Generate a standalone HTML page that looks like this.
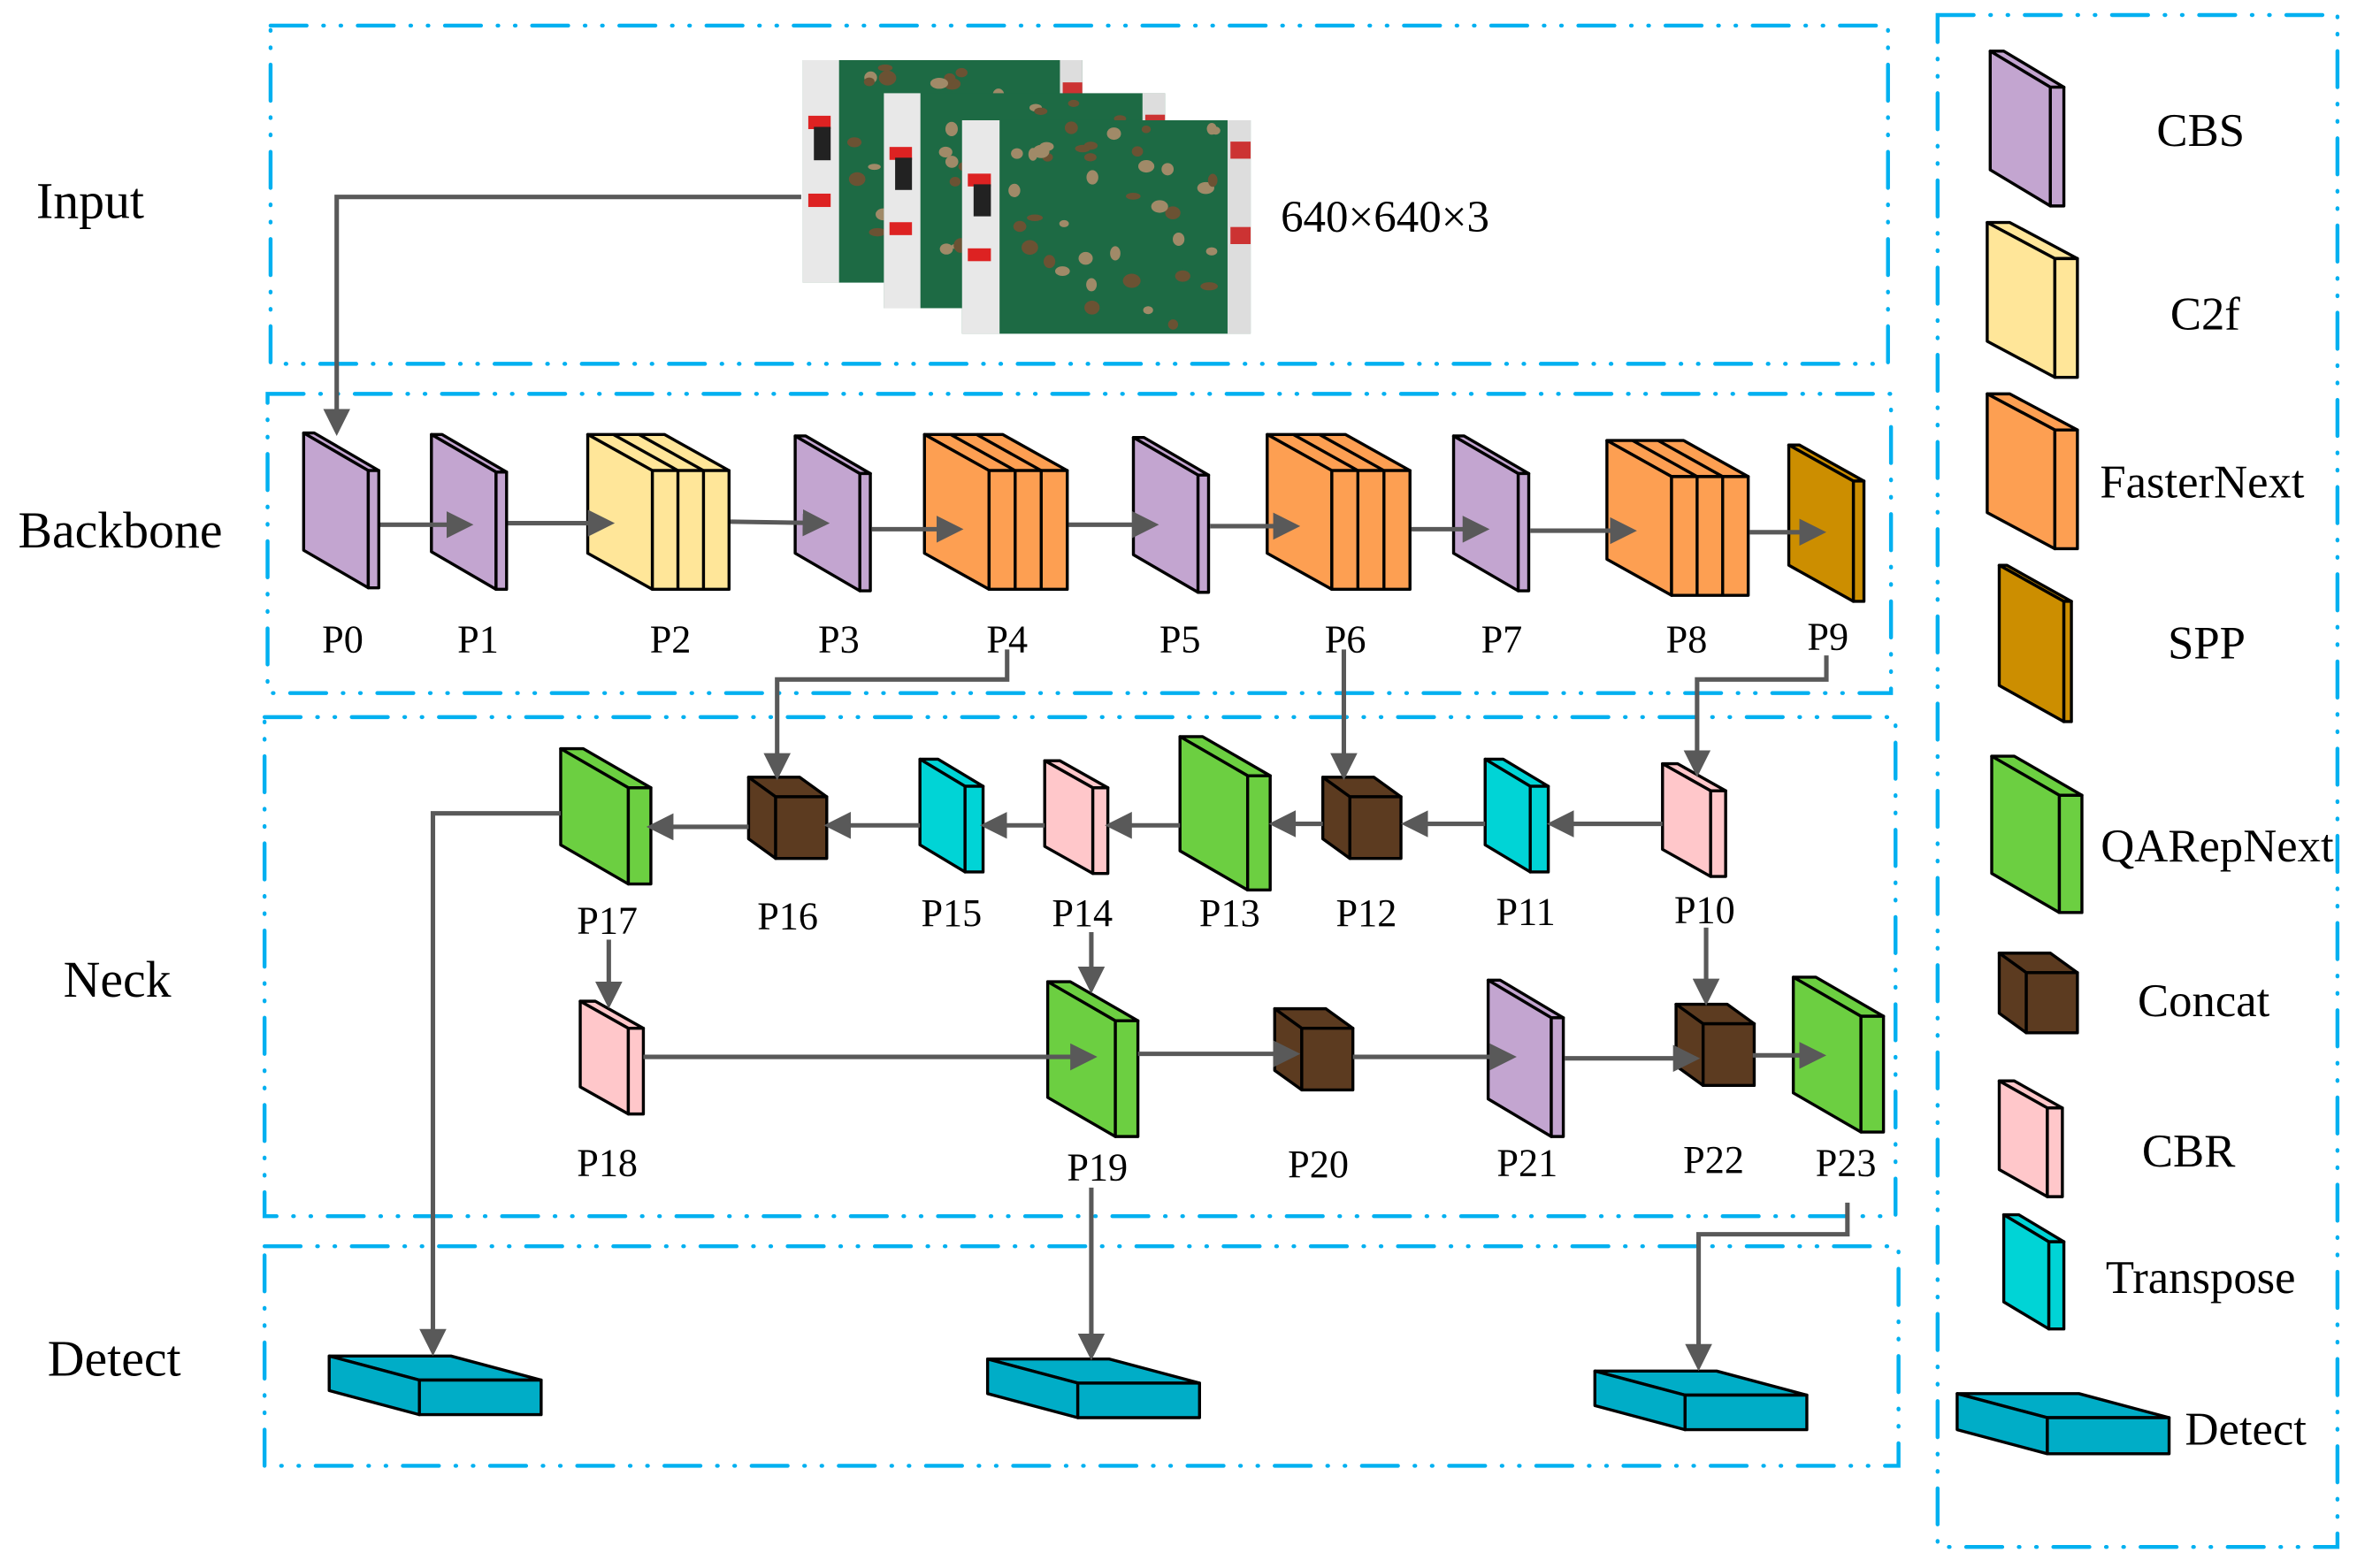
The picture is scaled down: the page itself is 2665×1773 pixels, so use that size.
<!DOCTYPE html>
<html><head><meta charset="utf-8">
<style>
html,body{margin:0;padding:0;background:#fff;}
svg{display:block;}
text{font-family:"Liberation Serif",serif;fill:#000;}
</style></head>
<body>
<svg id="s" width="2665" height="1773" viewBox="0 0 1568 1043" preserveAspectRatio="none" xmlns="http://www.w3.org/2000/svg">
<defs>
<marker id="ah" markerWidth="6" markerHeight="6" refX="5" refY="3" orient="auto" markerUnits="strokeWidth">
<path d="M0,0 L6,3 L0,6 z" fill="#595959"/>
</marker>
</defs>
<g fill="none" stroke="#00b0f0" stroke-width="2.6" stroke-dasharray="24 11 0.5 11 0.5 11" stroke-linecap="round">
<rect x="180" y="17" width="1076" height="225"/>
<rect x="178" y="262" width="1080" height="199"/>
<rect x="176" y="477" width="1085" height="332"/>
<rect x="176" y="829" width="1087" height="146"/>
<rect x="1289" y="10" width="266" height="1019"/>
</g>
<g id="imgs"></g>
<g id="blocks"></g>
<g fill="none" stroke="#595959" stroke-width="3" marker-end="url(#ah)">
<polyline points="533,131 224,131 224,287"/>
<line x1="253" y1="349" x2="312" y2="349"/>
<line x1="338" y1="348" x2="406" y2="348"/>
<line x1="486" y1="347" x2="549" y2="348"/>
<line x1="580" y1="352" x2="638" y2="352"/>
<line x1="711" y1="349" x2="768" y2="349"/>
<line x1="805" y1="350" x2="862" y2="350"/>
<line x1="939" y1="352" x2="988" y2="352"/>
<line x1="1018" y1="353" x2="1086" y2="353"/>
<line x1="1164" y1="354" x2="1212" y2="354"/>
<polyline points="670,432 670,452 517,452 517,516"/>
<line x1="894" y1="432" x2="894" y2="516"/>
<polyline points="1215,436 1215,452 1129,452 1129,514"/>
<line x1="1106" y1="548" x2="1032" y2="548"/>
<line x1="988" y1="548" x2="935" y2="548"/>
<line x1="880" y1="548" x2="847" y2="548"/>
<line x1="785" y1="549" x2="738" y2="549"/>
<line x1="695" y1="549" x2="655" y2="549"/>
<line x1="612" y1="549" x2="551" y2="549"/>
<line x1="498" y1="550" x2="433" y2="550"/>
<polyline points="373,541 288,541 288,899"/>
<line x1="405" y1="625" x2="405" y2="668"/>
<line x1="726" y1="620" x2="726" y2="658"/>
<line x1="1135" y1="617" x2="1135" y2="666"/>
<line x1="428" y1="703" x2="727" y2="703"/>
<line x1="757" y1="701" x2="862" y2="701"/>
<line x1="900" y1="703" x2="1006" y2="703"/>
<line x1="1041" y1="704" x2="1128" y2="704"/>
<line x1="1166" y1="702" x2="1212" y2="702"/>
<line x1="726" y1="790" x2="726" y2="902"/>
<polyline points="1229,800 1229,821 1130,821 1130,909"/>
</g>
<g font-size="34">
<text x="60" y="145" text-anchor="middle">Input</text>
<text x="80" y="364" text-anchor="middle">Backbone</text>
<text x="78" y="663" text-anchor="middle">Neck</text>
<text x="76" y="915" text-anchor="middle">Detect</text>
</g>
<text x="852" y="154" font-size="30">640×640×3</text>
<g font-size="26" text-anchor="middle">
<text x="228" y="434">P0</text><text x="318" y="434">P1</text><text x="446" y="434">P2</text>
<text x="558" y="434">P3</text><text x="670" y="434">P4</text><text x="785" y="434">P5</text>
<text x="895" y="434">P6</text><text x="999" y="434">P7</text><text x="1122" y="434">P8</text>
<text x="1216" y="432">P9</text>
<text x="404" y="621">P17</text><text x="524" y="618">P16</text><text x="633" y="616">P15</text>
<text x="720" y="616">P14</text><text x="818" y="616">P13</text><text x="909" y="616">P12</text>
<text x="1015" y="615">P11</text><text x="1134" y="614">P10</text>
<text x="404" y="782">P18</text><text x="730" y="785">P19</text><text x="877" y="783">P20</text>
<text x="1016" y="782">P21</text><text x="1140" y="780">P22</text><text x="1228" y="782">P23</text>
</g>
<g font-size="31" text-anchor="middle">
<text x="1464" y="97">CBS</text>
<text x="1467" y="219">C2f</text>
<text x="1465" y="331">FasterNext</text>
<text x="1468" y="438">SPP</text>
<text x="1475" y="573">QARepNext</text>
<text x="1466" y="676">Concat</text>
<text x="1456" y="776">CBR</text>
<text x="1464" y="860">Transpose</text>
<text x="1494" y="961">Detect</text>
</g>
</svg>
<script>
var NS="http://www.w3.org/2000/svg";
var B=document.getElementById("blocks");
function poly(g,pts,fill){var p=document.createElementNS(NS,"polygon");p.setAttribute("points",pts.map(function(a){return a.join(",")}).join(" "));p.setAttribute("fill",fill);p.setAttribute("stroke","#000");p.setAttribute("stroke-width","2");p.setAttribute("stroke-linejoin","round");g.appendChild(p);}
function ln(g,x1,y1,x2,y2){var l=document.createElementNS(NS,"line");l.setAttribute("x1",x1);l.setAttribute("y1",y1);l.setAttribute("x2",x2);l.setAttribute("y2",y2);l.setAttribute("stroke","#000");l.setAttribute("stroke-width","2");g.appendChild(l);}
function box(x,y,w,d,t,h,fill,n){
 poly(B,[[x,y],[x+t,y],[x+w+t,y+d],[x+w,y+d]],fill);
 poly(B,[[x,y],[x+w,y+d],[x+w,y+d+h],[x,y+h]],fill);
 poly(B,[[x+w,y+d],[x+w+t,y+d],[x+w+t,y+d+h],[x+w,y+d+h]],fill);
 if(n){for(var k=1;k<n;k++){var o=t*k/n;ln(B,x+w+o,y+d,x+w+o,y+d+h);ln(B,x+o,y,x+w+o,y+d);}}
}
var CBS="#c3a5d0",C2F="#ffe699",FN="#fd9f52",SPP="#cc8e00",QA="#6ccf41",CC="#5c3b20",CBR="#ffc7ca",TR="#00d4d6",DT="#00adc7";
function cbs(x,y){box(x,y,43,25,7,78,CBS);}
cbs(202,288);cbs(287,289);cbs(529,290);cbs(754,291);cbs(967,290);
box(391,289,43,24,51,79,C2F,3);
box(615,289,43,24,52,79,FN,3);
box(843,289,43,24,52,79,FN,3);
box(1069,293,43,24,51,79,FN,3);
box(1190,296,43,24,7,80,SPP);
function qa(x,y,h){box(x,y,45,26,15,h,QA);}
function cc(x,y){box(x,y,18,13,34,41,CC);}
function cbr(x,y){box(x,y,32,18,10,57,CBR);}
function tr(x,y){box(x,y,30,18,12,57,TR);}
qa(373,498,64);cc(498,517);tr(612,505);cbr(695,506);qa(785,490,76);cc(880,517);tr(988,505);cbr(1106,508);
cbr(386,666);qa(697,653,77);cc(848,671);box(990,652,42,25,8,79,CBS);cc(1115,668);qa(1193,650,77);
function det(x,y){box(x,y,60,16,81,23,DT);}
det(219,902);det(657,904);det(1061,912);
box(1324,34,40,24,9,79,CBS);
box(1322,148,45,24,15,79,C2F);
box(1322,262,45,24,15,79,FN);
box(1330,376,43,24,5,80,SPP);
box(1325,503,45,26,15,78,QA);
box(1330,634,18,13,34,40,CC);
box(1330,719,32,18,10,59,CBR);
box(1333,808,30,18,10,58,TR);
box(1302,927,60,16,81,24,DT);
var I=document.getElementById("imgs");
function rect(x,y,w,h,f){var r=document.createElementNS(NS,"rect");r.setAttribute("x",x);r.setAttribute("y",y);r.setAttribute("width",w);r.setAttribute("height",h);r.setAttribute("fill",f);I.appendChild(r);}
var seed=7;function rnd(){seed=(seed*9301+49297)%233280;return seed/233280;}
function photo(x,y,w,h){
 rect(x,y,w,h,"#1d6a44");
 rect(x,y,w*0.13,h,"#e8e8e8");
 rect(x+w*0.02,y+h*0.25,w*0.08,h*0.06,"#d22");
 rect(x+w*0.02,y+h*0.6,w*0.08,h*0.06,"#d22");
 rect(x+w*0.04,y+h*0.3,w*0.06,h*0.15,"#222");
 rect(x+w*0.92,y,w*0.08,h,"#ddd");
 rect(x+w*0.93,y+h*0.1,w*0.07,h*0.08,"#c33");
 rect(x+w*0.93,y+h*0.5,w*0.07,h*0.08,"#c33");
 for(var i=0;i<40;i++){var c=document.createElementNS(NS,"ellipse");c.setAttribute("cx",x+w*0.18+rnd()*w*0.7);c.setAttribute("cy",y+5+rnd()*(h-10));c.setAttribute("rx",3+rnd()*3);c.setAttribute("ry",2+rnd()*3);c.setAttribute("fill",rnd()>0.5?"#a08a68":"#6b5233");I.appendChild(c);}
}
photo(534,40,186,148);photo(588,62,187,143);photo(640,80,192,142);
</script>
</body></html>
